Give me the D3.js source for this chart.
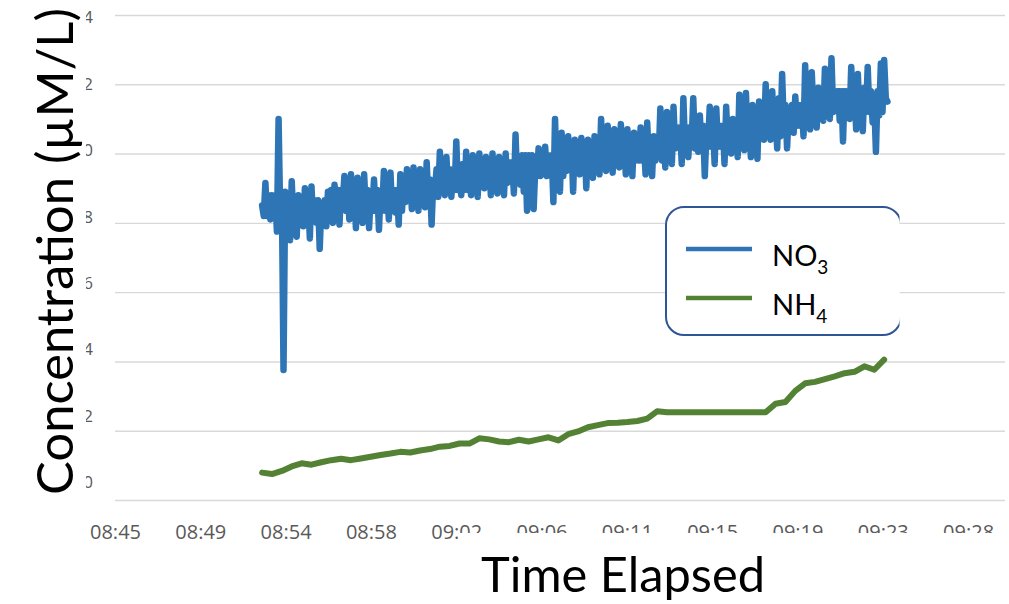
<!DOCTYPE html>
<html>
<head>
<meta charset="utf-8">
<script src="https://cdn.jsdelivr.net/npm/d3@7"></script>
<style>
  html, body { margin: 0; padding: 0; background: #fff; }
  svg { display: block; }
</style>
</head>
<body>
<svg id="chart" width="1009" height="604"></svg>
<script>
// ---- data -------------------------------------------------------------
// Time-axis labels (one every 0.003 day starting at 08:45)
const timeTickLabels = ["08:45", "08:49", "08:54", "08:58", "09:02", "09:06",
                        "09:11", "09:15", "09:19", "09:23", "09:28"];
const tickStepMin = 4.32;       // 0.003 day
const axisMaxMin = 45.07;       // axis end, minutes after 08:45
const concTicks = [0, 2, 4, 6, 8, 10, 12, 14];

// first reading 08:52:27 (minutes after 08:45)
const firstReadingMin = 7.45;
const no3StepSec = 5;
const nh4StepSec = 30;

// NO3 readings (µM/L), every 5 s
const no3Values = [
  8.5, 8.2, 9.15, 8.2, 8.8, 8.1, 8.8, 8.4, 8.8, 7.75, 11.0, 8.2, 8.8, 3.75, 8.9, 8.2, 8.8, 7.5, 9.2, 8.05,
  8.65, 7.6, 8.8, 8.05, 8.65, 7.9, 9.0, 8.05, 8.65, 7.55, 9.05, 8.05, 8.65, 8.0, 8.65, 7.25, 8.5, 8.05, 8.65, 7.9,
  8.9, 8.05, 8.95, 8.0, 9.1, 8.35, 8.95, 7.95, 8.95, 8.6, 9.35, 8.35, 8.95, 8.1, 9.4, 8.35, 8.95, 7.85, 9.3, 8.35,
  8.95, 8.0, 9.4, 8.35, 8.95, 7.85, 8.8, 8.35, 9.25, 8.35, 8.95, 7.8, 8.9, 8.35, 9.5, 8.35, 8.95, 8.1, 9.45, 8.35,
  8.95, 8.3, 8.95, 7.95, 9.4, 8.35, 9.25, 8.6, 9.55, 8.65, 9.25, 8.4, 9.6, 8.65, 9.25, 8.35, 9.55, 8.65, 9.25, 8.45,
  9.75, 8.65, 9.25, 7.95, 9.2, 8.95, 9.55, 8.75, 10.05, 8.95, 9.55, 8.8, 9.9, 8.95, 9.55, 8.75, 9.5, 8.95, 10.35, 8.95,
  9.55, 8.8, 9.7, 8.95, 10.05, 8.95, 9.55, 8.8, 9.95, 9.15, 9.75, 8.75, 10.0, 9.15, 9.75, 9.0, 9.9, 9.15, 9.75, 8.8,
  10.0, 9.15, 9.75, 8.85, 9.9, 9.15, 9.75, 8.8, 10.0, 9.15, 9.75, 9.2, 9.75, 8.85, 10.55, 9.15, 9.75, 9.1, 9.95, 8.9,
  9.95, 8.35, 9.95, 9.4, 9.95, 8.4, 9.6, 9.35, 10.15, 9.35, 9.95, 9.4, 10.2, 9.35, 9.95, 9.5, 9.95, 8.6, 11.0, 9.35,
  9.95, 8.9, 10.6, 9.35, 10.25, 9.5, 10.5, 9.65, 10.25, 8.9, 10.4, 9.65, 10.25, 9.4, 10.45, 9.65, 10.25, 9.0, 10.4, 9.65,
  10.25, 9.3, 10.5, 9.65, 10.25, 9.4, 11.0, 9.65, 10.4, 9.5, 10.8, 9.8, 10.4, 9.45, 10.7, 9.8, 10.4, 9.6, 10.85, 9.8,
  10.4, 9.4, 10.7, 9.8, 10.4, 9.35, 10.6, 9.8, 10.4, 9.8, 10.75, 9.8, 10.4, 9.4, 10.9, 9.8, 10.4, 9.35, 10.5, 9.8,
  10.4, 9.9, 11.3, 9.8, 10.75, 9.6, 11.2, 10.15, 10.75, 9.7, 11.35, 10.15, 10.75, 10.2, 10.75, 9.7, 11.6, 10.15, 10.75, 9.9,
  10.75, 10.3, 11.6, 10.15, 10.75, 10.05, 11.1, 10.15, 10.8, 9.35, 10.6, 10.2, 11.35, 10.2, 10.8, 9.7, 11.3, 10.2, 10.8, 10.2,
  10.8, 9.7, 11.35, 10.2, 10.8, 10.0, 11.0, 10.2, 10.8, 9.9, 11.7, 10.2, 11.1, 10.1, 11.75, 10.5, 11.1, 9.9, 11.4, 10.5,
  11.1, 9.85, 11.5, 10.5, 11.1, 10.4, 12.0, 10.5, 11.1, 10.4, 11.8, 10.5, 11.1, 10.15, 11.6, 10.5, 12.3, 10.8, 11.4, 10.15,
  11.2, 10.8, 11.4, 10.6, 11.65, 10.8, 11.4, 10.8, 11.4, 10.5, 12.55, 10.8, 11.8, 10.7, 12.35, 11.2, 11.8, 10.75, 11.9, 11.2,
  11.8, 10.95, 12.45, 11.2, 11.8, 11.0, 12.75, 11.2, 11.8, 11.3, 11.8, 10.95, 11.8, 10.35, 11.8, 11.2, 11.8, 11.0, 12.5, 11.2,
  11.8, 10.7, 12.3, 11.2, 11.8, 10.65, 11.9, 11.2, 12.5, 11.2, 11.8, 10.9, 11.5, 10.05, 11.8, 11.1, 12.6, 11.2, 12.7, 11.6, 11.5
];

// NH4 readings (µM/L), every 30 s
const nh4Values = [
  0.79, 0.75, 0.84, 0.97, 1.06, 1.02, 1.09, 1.15, 1.19, 1.15,
  1.20, 1.25, 1.30, 1.34, 1.39, 1.37, 1.43, 1.47, 1.54, 1.56,
  1.63, 1.63, 1.78, 1.75, 1.69, 1.67, 1.74, 1.69, 1.75, 1.81,
  1.72, 1.90, 1.98, 2.10, 2.16, 2.22, 2.23, 2.25, 2.28, 2.35,
  2.56, 2.53, 2.53, 2.53, 2.53, 2.53, 2.53, 2.53, 2.53, 2.53,
  2.53, 2.53, 2.78, 2.83, 3.15, 3.37, 3.41, 3.49, 3.57, 3.66,
  3.70, 3.86, 3.76, 4.05
];

// ---- layout -----------------------------------------------------------
const W = 1009, H = 604;
const plot = { left: 115, right: 1005, top: 15, bottom: 500 };
const NO3_COLOR = "#2E75B6";
const NH4_COLOR = "#548235";
const TICK_COLOR = "#595959";
const GRID_COLOR = "#d9d9d9";

const svg = d3.select("#chart");

const x = d3.scaleLinear().domain([0, axisMaxMin]).range([plot.left, plot.right]);
const y = d3.scaleLinear().domain([0, 14]).range([plot.bottom, plot.top]);
// value-label column sits on its own slightly tighter spacing
const yLabel = d3.scaleLinear().domain([0, 14]).range([482, 17.5]);

const no3 = no3Values.map((v, i) => ({ t: firstReadingMin + i * no3StepSec / 60, v }));
const nh4 = nh4Values.map((v, i) => ({ t: firstReadingMin + i * nh4StepSec / 60, v }));

// ---- gridlines --------------------------------------------------------
const grid = svg.append("g")
  .attr("transform", `translate(${plot.left},0)`)
  .call(d3.axisLeft(y).tickValues(concTicks).tickFormat("")
        .tickSize(-(plot.right - plot.left)));
grid.select(".domain").remove();
grid.selectAll(".tick line").attr("stroke", GRID_COLOR).attr("stroke-width", 1.4);

// ---- series -----------------------------------------------------------
const line = d3.line().x(d => x(d.t)).y(d => y(d.v));

svg.append("path").datum(nh4)
  .attr("d", line)
  .attr("fill", "none").attr("stroke", NH4_COLOR)
  .attr("stroke-width", 6).attr("stroke-linejoin", "round").attr("stroke-linecap", "round");

svg.append("path").datum(no3)
  .attr("d", line)
  .attr("fill", "none").attr("stroke", NO3_COLOR)
  .attr("stroke-width", 6.5).attr("stroke-linejoin", "round").attr("stroke-linecap", "round");

// ---- value labels (left column) ---------------------------------------
const defs = svg.append("defs");
defs.append("clipPath").attr("id", "yLabelClip")
  .append("rect").attr("x", 86).attr("y", 0).attr("width", 40).attr("height", H);

const yAxisWrap = svg.append("g").attr("clip-path", "url(#yLabelClip)");
const yAxisG = yAxisWrap.append("g")
  .attr("transform", "translate(93,0)")
  .call(d3.axisLeft(yLabel).tickValues(concTicks).tickSize(0).tickPadding(0));
yAxisG.select(".domain").remove();
yAxisG.selectAll("text")
  .attr("fill", TICK_COLOR)
  .style("font-family", "'Open Sans', sans-serif")
  .style("font-size", "17px");

// ---- time labels ------------------------------------------------------
const xAxisG = svg.append("g")
  .attr("transform", "translate(0,525)")
  .call(d3.axisBottom(x)
        .tickValues(timeTickLabels.map((_, i) => i * tickStepMin))
        .tickFormat((d, i) => timeTickLabels[i])
        .tickSize(0).tickPadding(0));
xAxisG.select(".domain").remove();
xAxisG.selectAll("text")
  .attr("fill", TICK_COLOR)
  .style("font-family", "'Open Sans', sans-serif")
  .style("font-size", "20px");

// ---- legend -----------------------------------------------------------
defs.append("clipPath").attr("id", "legendClip")
  .append("rect").attr("x", 0).attr("y", 0).attr("width", 899.5).attr("height", H);

const legend = svg.append("g");
legend.append("rect")
  .attr("x", 666).attr("y", 207).attr("width", 235).attr("height", 128)
  .attr("rx", 18).attr("ry", 18)
  .attr("fill", "#fff").attr("stroke", "#2F5597").attr("stroke-width", 2)
  .attr("clip-path", "url(#legendClip)");

const legendItems = [
  { name: "NO", sub: "3", color: NO3_COLOR, y: 249 },
  { name: "NH", sub: "4", color: NH4_COLOR, y: 298 }
];
legendItems.forEach(it => {
  legend.append("line")
    .attr("x1", 686).attr("x2", 752).attr("y1", it.y).attr("y2", it.y)
    .attr("stroke", it.color).attr("stroke-width", 4.5);
  const t = legend.append("text")
    .attr("x", 772).attr("y", it.y + 17)
    .style("font-family", "Lato, 'Open Sans', sans-serif")
    .style("font-size", "29px").attr("fill", "#000");
  t.append("tspan").text(it.name);
  t.append("tspan").text(it.sub).attr("dy", 8).style("font-size", "19px");
});

// ---- axis titles ------------------------------------------------------
function fitText(sel, targetLen) {
  const base = parseFloat(sel.style("font-size"));
  const len = sel.node().getComputedTextLength();
  sel.style("font-size", (base * targetLen / len) + "px");
}

// title backdrops hide whatever label text runs under them
svg.append("rect").attr("x", 0).attr("y", 0).attr("width", 86).attr("height", 520).attr("fill", "#fff");
svg.append("rect").attr("x", 458).attr("y", 533).attr("width", W - 458).attr("height", H - 533).attr("fill", "#fff");

const yTitle = svg.append("text")
  .attr("transform", "translate(73,251.5) rotate(-90)")
  .attr("text-anchor", "middle")
  .style("font-family", "Lato, 'Open Sans', sans-serif")
  .style("font-size", "50px").attr("fill", "#000")
  .text("Concentration (µM/L)");
fitText(yTitle, 487);

const xTitle = svg.append("text")
  .attr("x", 623).attr("y", 592)
  .attr("text-anchor", "middle")
  .style("font-family", "Lato, 'Open Sans', sans-serif")
  .style("font-size", "50px").attr("fill", "#000")
  .text("Time Elapsed");
fitText(xTitle, 284);
</script>
</body>
</html>
